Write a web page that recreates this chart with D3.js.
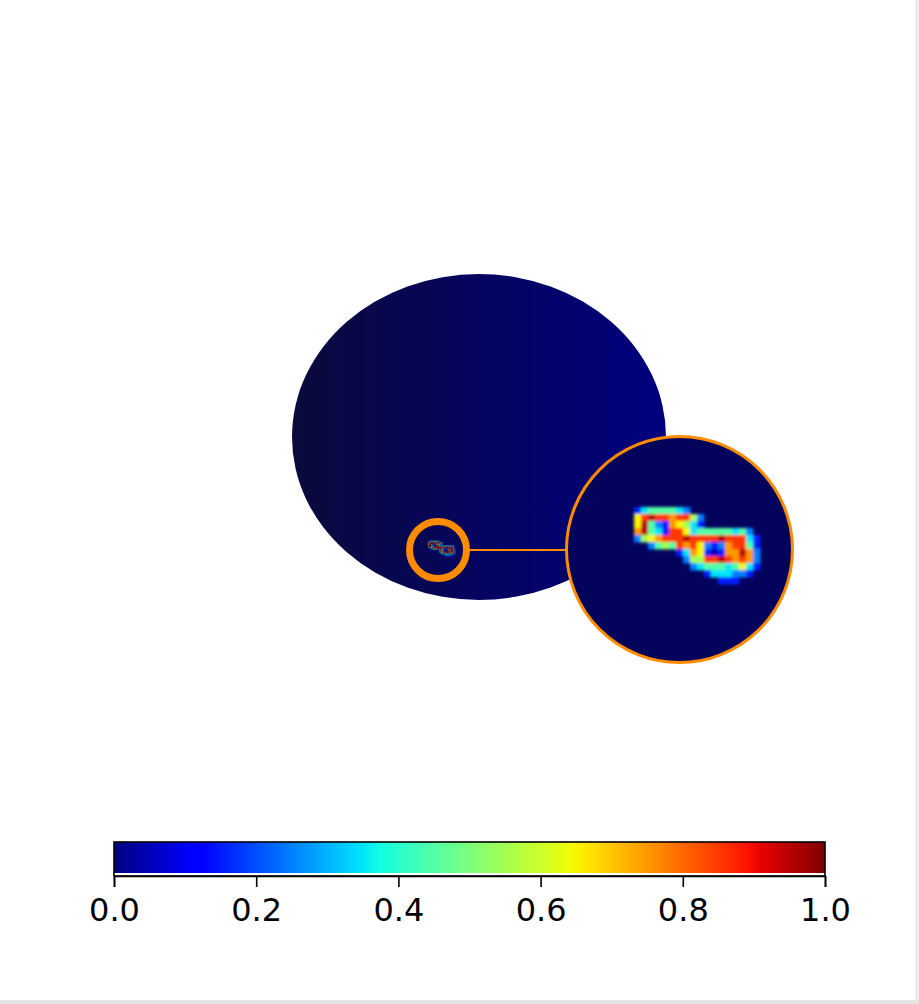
<!DOCTYPE html>
<html>
<head>
<meta charset="utf-8">
<script src="https://cdn.jsdelivr.net/npm/d3@7"></script>
<style>
  html, body { margin: 0; padding: 0; background: #ffffff; }
  svg { display: block; }
</style>
</head>
<body>
<script>
// ---------------- data ----------------
// heat-map cells of the magnified feature (digit d -> value d/10 + 0.05, '.' = empty)
const heatRows = [
  "13444432..........",
  "6898878852........",
  "6942176531........",
  "79431886344444342.",
  "256788898888988831",
  "..2454878621278841",
  "......137610177972",
  ".......25588987872",
  "........2344434631",
  "..........1333221.",
  "............111..."
];
const colorbarTicks = [0.0, 0.2, 0.4, 0.6, 0.8, 1.0];
const colorbarDomain = [0, 1];

// matplotlib "jet" channel anchors
const jetR = [[0, 0], [0.35, 0], [0.66, 1], [0.89, 1], [1, 0.5]];
const jetG = [[0, 0], [0.125, 0], [0.375, 1], [0.64, 1], [0.91, 0], [1, 0]];
const jetB = [[0, 0.5], [0.11, 1], [0.34, 1], [0.65, 0], [1, 0]];

// ---------------- helpers ----------------
function chan(a) {
  return d3.scaleLinear().domain(a.map(d => d[0])).range(a.map(d => d[1])).clamp(true);
}
const cR = chan(jetR), cG = chan(jetG), cB = chan(jetB);
const jet = v => d3.rgb(cR(v) * 255, cG(v) * 255, cB(v) * 255).formatHex();

const W = 919, H = 1004;
const svg = d3.select("body").append("svg").attr("width", W).attr("height", H);
const defs = svg.append("defs");

// window frame artefacts
svg.append("rect").attr("x", 0).attr("y", 0).attr("width", W).attr("height", H).attr("fill", "#ffffff");
svg.append("rect").attr("x", 915).attr("y", 0).attr("width", 4).attr("height", H).attr("fill", "#ececec");
svg.append("rect").attr("x", 0).attr("y", 1000).attr("width", W).attr("height", 4).attr("fill", "#e4e4e4");

// ---------------- main disc ----------------
const ellipse = { cx: 479, cy: 437, rx: 187, ry: 163 };
const eg = defs.append("linearGradient").attr("id", "discGrad")
  .attr("x1", "0%").attr("x2", "100%").attr("y1", "0%").attr("y2", "0%");
eg.append("stop").attr("offset", "0%").attr("stop-color", "#0a0a3c");
eg.append("stop").attr("offset", "55%").attr("stop-color", "#040462");
eg.append("stop").attr("offset", "100%").attr("stop-color", "#00007e");
svg.append("ellipse")
  .attr("cx", ellipse.cx).attr("cy", ellipse.cy)
  .attr("rx", ellipse.rx).attr("ry", ellipse.ry)
  .attr("fill", "url(#discGrad)");

// ---------------- heat-map cells ----------------
const cells = [];
heatRows.forEach((row, r) => {
  row.split("").forEach((ch, c) => {
    if (ch !== ".") cells.push({ r, c, v: (+ch) / 10 + 0.05 });
  });
});
const nCols = heatRows[0].length, nRows = heatRows.length;
const cell = 7;
const hx = d3.scaleLinear().domain([0, nCols]).range([634, 634 + nCols * cell]);
const hy = d3.scaleLinear().domain([0, nRows]).range([507, 507 + nRows * cell]);

const blur = defs.append("filter").attr("id", "soft")
  .attr("filterUnits", "userSpaceOnUse")
  .attr("x", 0).attr("y", 0).attr("width", W).attr("height", H);
blur.append("feGaussianBlur").attr("stdDeviation", 1.6);

function drawCells(g) {
  g.selectAll("rect").data(cells).join("rect")
    .attr("x", d => hx(d.c))
    .attr("y", d => hy(d.r))
    .attr("width", hx(1) - hx(0) + 0.4)
    .attr("height", hy(1) - hy(0) + 0.4)
    .attr("fill", d => jet(d.v));
}

const big = { cx: 679.5, cy: 549.5, r: 113 };
const small = { cx: 438, cy: 550, r: 28.5 };
const mag = 4.5;

// connector line
svg.append("line")
  .attr("x1", small.cx + small.r + 3).attr("y1", small.cy)
  .attr("x2", big.cx - big.r).attr("y2", small.cy)
  .attr("stroke", "#ff8c00").attr("stroke-width", 2);

// small inset: the feature at true scale
defs.append("clipPath").attr("id", "clipSmall")
  .append("circle").attr("cx", small.cx).attr("cy", small.cy).attr("r", small.r - 3.5);
const sg = svg.append("g").attr("clip-path", "url(#clipSmall)")
  .append("g")
  .attr("transform", `translate(${small.cx},${small.cy}) scale(${1 / mag}) translate(${-big.cx},${-big.cy})`)
  .attr("opacity", 0.5);
drawCells(sg);
svg.append("circle").attr("cx", small.cx).attr("cy", small.cy).attr("r", small.r)
  .attr("fill", "none").attr("stroke", "#ff8c00").attr("stroke-width", 7);

// big magnified circle
defs.append("clipPath").attr("id", "clipBig")
  .append("circle").attr("cx", big.cx).attr("cy", big.cy).attr("r", big.r);
svg.append("circle").attr("cx", big.cx).attr("cy", big.cy).attr("r", big.r).attr("fill", "#03035c");
const bg = svg.append("g").attr("clip-path", "url(#clipBig)")
  .append("g").attr("filter", "url(#soft)");
drawCells(bg);
svg.append("circle").attr("cx", big.cx).attr("cy", big.cy).attr("r", big.r)
  .attr("fill", "none").attr("stroke", "#ff8c00").attr("stroke-width", 3);

// ---------------- colour bar ----------------
const cb = { x0: 114, x1: 825, y0: 842, y1: 876 };
const cx = d3.scaleLinear().domain(colorbarDomain).range([cb.x0, cb.x1]);
const steps = d3.range(0, 256).map(i => i / 255);
const lg = defs.append("linearGradient").attr("id", "jetGrad")
  .attr("x1", "0%").attr("x2", "100%").attr("y1", "0%").attr("y2", "0%");
lg.selectAll("stop").data(steps).join("stop")
  .attr("offset", d => (d * 100) + "%")
  .attr("stop-color", d => jet(d));
svg.append("rect")
  .attr("x", cx(0)).attr("y", cb.y0)
  .attr("width", cx(1) - cx(0)).attr("height", 31)
  .attr("fill", "url(#jetGrad)");
svg.append("rect")
  .attr("x", cx(0)).attr("y", cb.y0)
  .attr("width", cx(1) - cx(0)).attr("height", cb.y1 - cb.y0)
  .attr("fill", "none").attr("stroke", "#000").attr("stroke-width", 1.6);

const axis = d3.axisBottom(cx).tickValues(colorbarTicks)
  .tickFormat(d3.format(".1f")).tickSize(11).tickPadding(11);
const ag = svg.append("g").attr("transform", `translate(0,${cb.y1})`).call(axis);
ag.select(".domain").attr("stroke", "#000").attr("stroke-width", 1.6);
ag.selectAll(".tick line").attr("stroke", "#000").attr("stroke-width", 1.6);
ag.selectAll(".tick text")
  .attr("fill", "#000")
  .style("font-family", "'DejaVu Sans', sans-serif")
  .style("font-size", "32px");
</script>
</body>
</html>
